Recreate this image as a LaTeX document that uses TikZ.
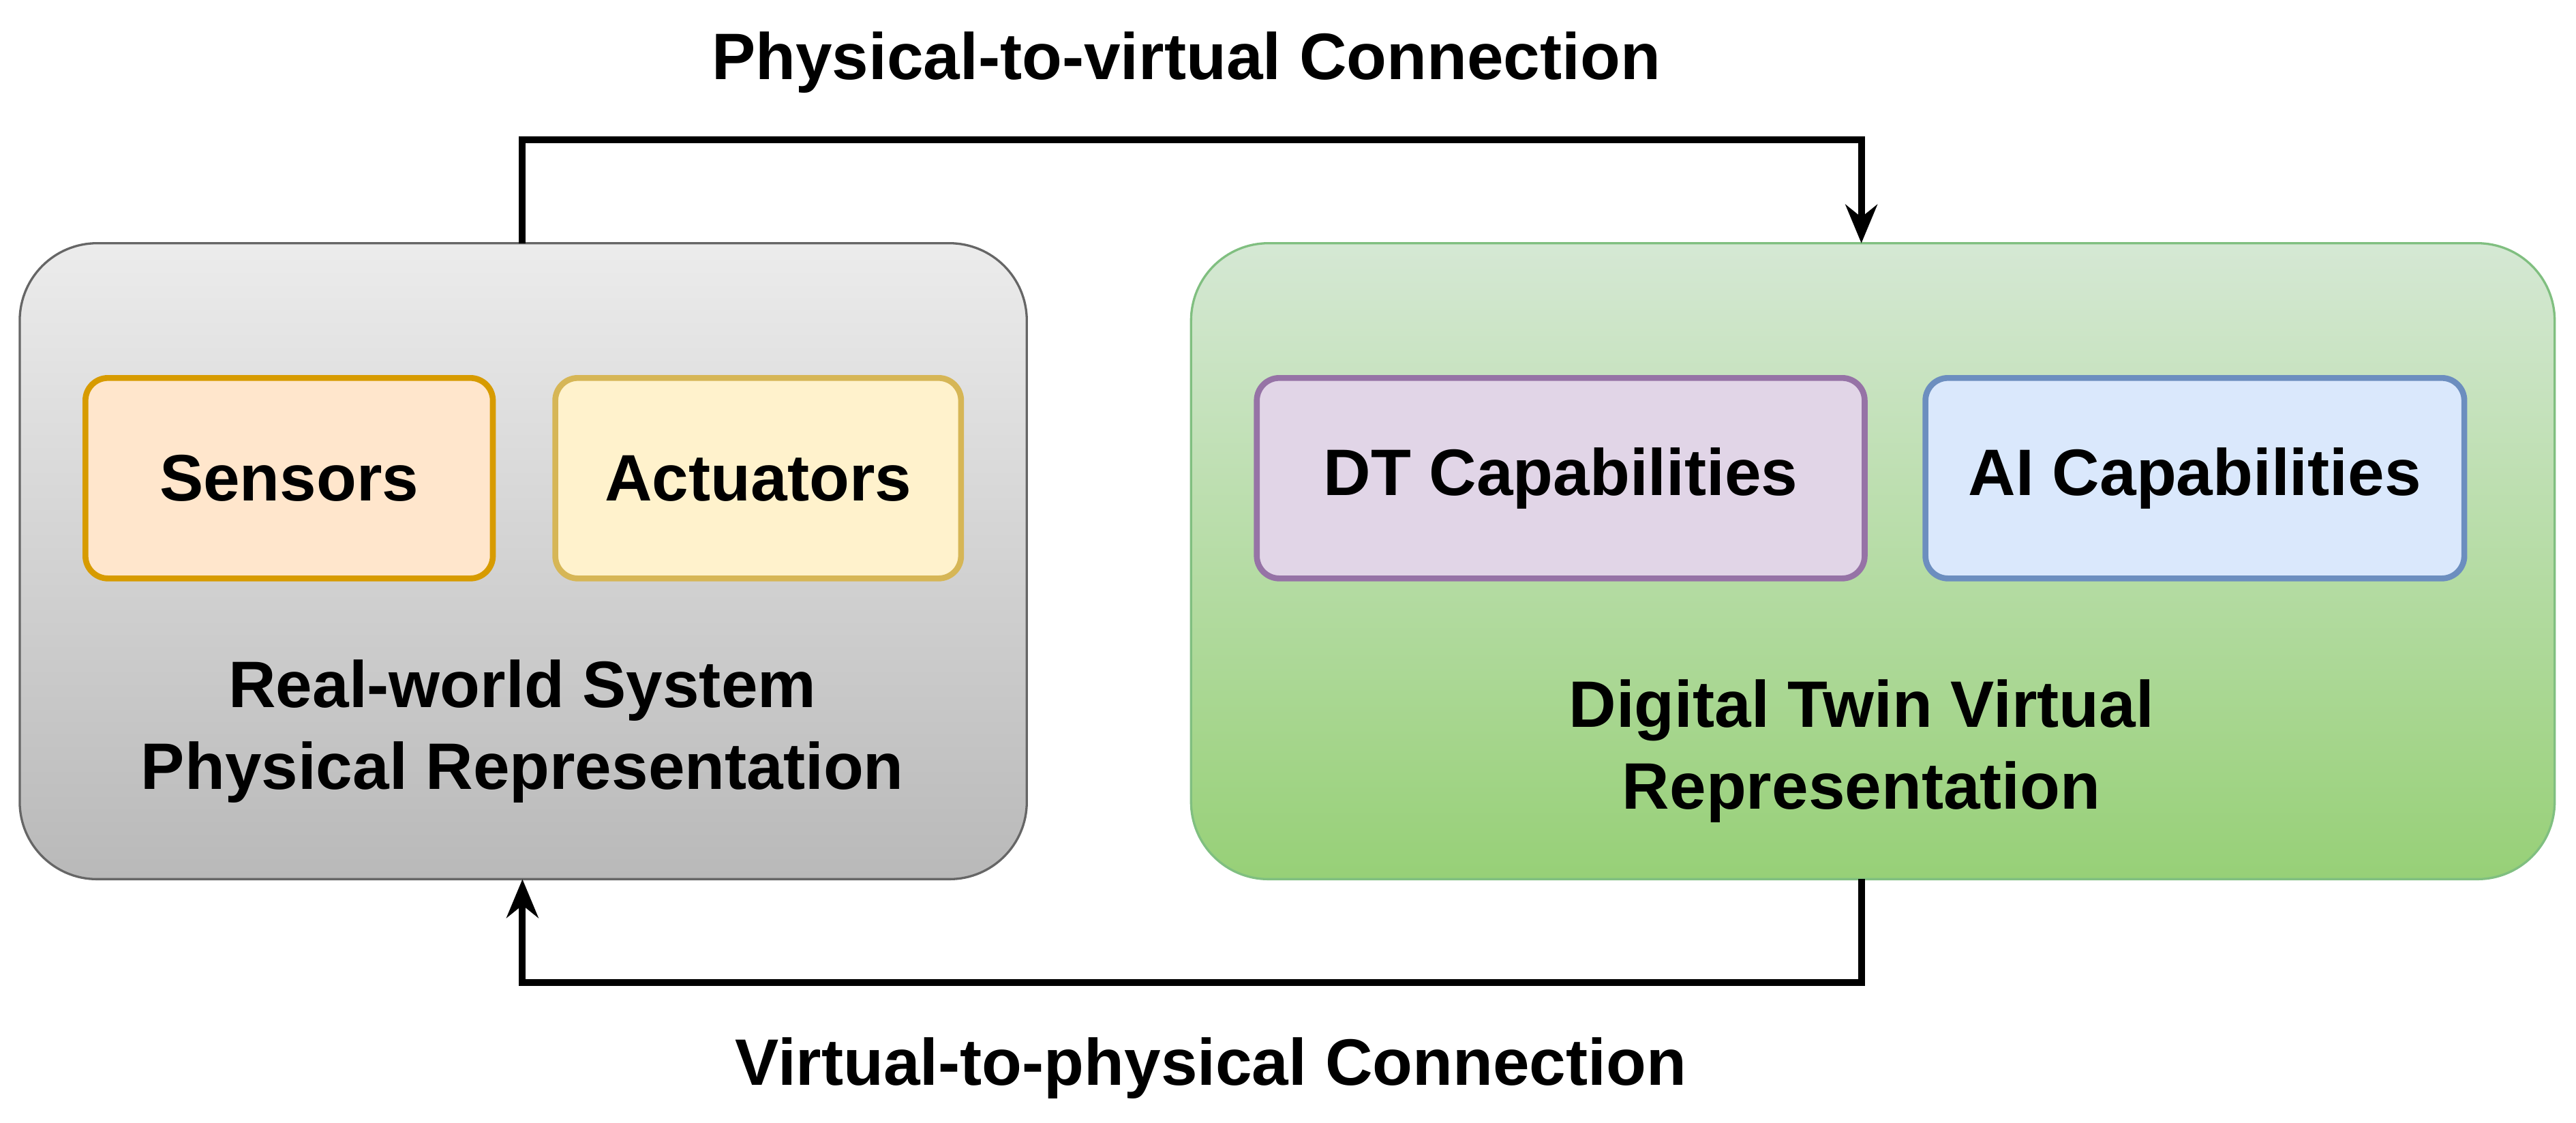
\documentclass[tikz,border=0pt]{standalone}
\usepackage{fontspec}
\setmainfont{Liberation Sans}
\usetikzlibrary{arrows.meta}
\begin{document}
\begin{tikzpicture}[x=0.0255cm,y=-0.0255cm,
  txt/.style={font=\fontsize{29}{36}\selectfont\bfseries,align=center},
  inner/.style={rounded corners=0.35cm,line width=2.6pt,txt},
  conn/.style={line width=3pt,-{Stealth[length=17pt,width=14pt]}}]
\useasboundingbox (0,0) rectangle (1568,683);
\node[draw=black!60,line width=1pt,rounded corners=1.2cm,top color=gray!15,bottom color=gray!55,minimum width=613*0.0255cm,minimum height=387*0.0255cm] (L) at (318.5,341.5) {};
\node[draw=green!50!black!50,line width=1pt,rounded corners=1.2cm,top color={rgb,255:red,213;green,232;blue,212},bottom color={rgb,255:red,151;green,208;blue,119},minimum width=830*0.0255cm,minimum height=387*0.0255cm] (R) at (1140,341.5) {};
\node[inner,draw={rgb,255:red,215;green,155;blue,0},fill={rgb,255:red,255;green,230;blue,204},minimum width=248*0.0255cm,minimum height=122*0.0255cm] (S) at (176,291) {Sensors};
\node[inner,draw={rgb,255:red,214;green,182;blue,86},fill={rgb,255:red,255;green,242;blue,204},minimum width=247*0.0255cm,minimum height=122*0.0255cm] (A) at (461.5,291) {Actuators};
\node[inner,draw={rgb,255:red,150;green,115;blue,166},fill={rgb,255:red,225;green,213;blue,231},minimum width=370*0.0255cm,minimum height=122*0.0255cm] (D) at (950,291) {DT Capabilities};
\node[inner,draw={rgb,255:red,108;green,142;blue,191},fill={rgb,255:red,218;green,232;blue,252},minimum width=328*0.0255cm,minimum height=122*0.0255cm] (I) at (1336,291) {AI Capabilities};
\node[txt] (LT) at (318,445) {Real-world System\\Physical Representation};
\node[txt] (RT) at (1133,457) {Digital Twin Virtual\\Representation};
\coordinate (t1) at (318,148); \coordinate (t2) at (1133,148);
\coordinate (b1) at (1133,535); \coordinate (b2) at (318,535);
\draw[conn] (t1) -- (318,85) -- (1133,85) -- (t2);
\draw[conn] (b1) -- (1133,598) -- (318,598) -- (b2);
\node[txt] (TL) at (722,38) {Physical-to-virtual Connection};
\node[txt] (BL) at (737,650) {Virtual-to-physical Connection};
\end{tikzpicture}
\end{document}
